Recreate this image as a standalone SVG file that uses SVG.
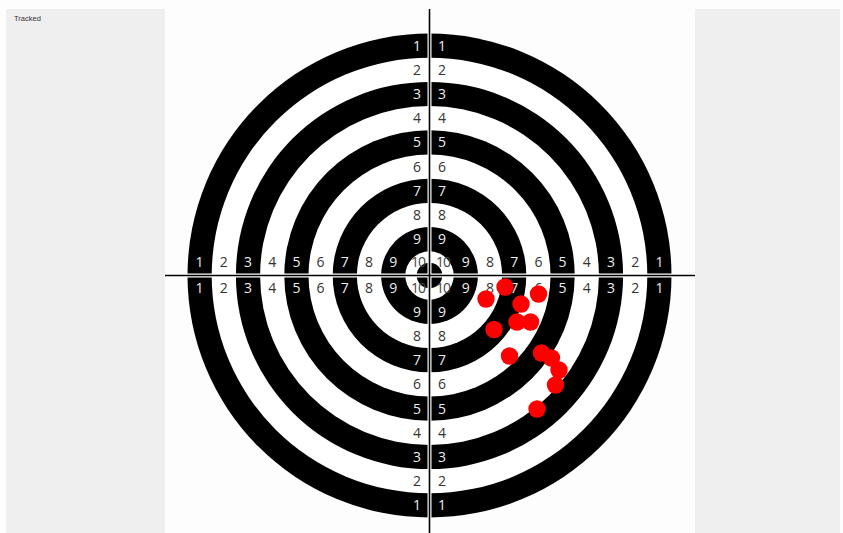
<svg xmlns="http://www.w3.org/2000/svg" width="843" height="533" viewBox="0 0 843 533">
<style>
.lbl{font-family:"Open Sans","DejaVu Sans",sans-serif;font-size:14px;text-anchor:middle}
.w{fill:#ededed}
.d{fill:#333}
.t{fill:#444}
.hit{fill:#ff0000}
.blk{fill:#000}
.wht{fill:#fff}
</style>
<rect x="0" y="0" width="843" height="533" fill="#fdfdfd"/>
<g id="leftPanel">
<rect x="6" y="9" width="159" height="524" fill="#efefef"/>
<text x="14" y="20.5" font-family="Liberation Sans, Arial, sans-serif" font-size="7.5" fill="#333">Tracked</text>
</g>
<g id="rightPanel">
<rect x="695" y="9" width="145" height="524" fill="#efefef"/>
</g>
<g id="target">
<circle cx="429.5" cy="275.5" r="242" class="blk"/>
<circle cx="429.5" cy="275.5" r="217.8" class="wht"/>
<circle cx="429.5" cy="275.5" r="193.6" class="blk"/>
<circle cx="429.5" cy="275.5" r="169.4" class="wht"/>
<circle cx="429.5" cy="275.5" r="145.2" class="blk"/>
<circle cx="429.5" cy="275.5" r="121" class="wht"/>
<circle cx="429.5" cy="275.5" r="96.8" class="blk"/>
<circle cx="429.5" cy="275.5" r="72.6" class="wht"/>
<circle cx="429.5" cy="275.5" r="48.4" class="blk"/>
<circle cx="429.5" cy="275.5" r="24.2" class="wht"/>
<circle cx="429.5" cy="275.5" r="12.8" class="blk"/>
</g>
<g id="crosshair">
<line x1="429.5" y1="9" x2="429.5" y2="533" stroke="#fff" stroke-width="4"/>
<line x1="165" y1="275.5" x2="695" y2="275.5" stroke="#fff" stroke-width="4"/>
<line x1="429.5" y1="9" x2="429.5" y2="533" stroke="#000" stroke-width="1.6"/>
<line x1="165" y1="275.5" x2="695" y2="275.5" stroke="#000" stroke-width="1.6"/>
</g>
<g id="labelsVertical" class="lbl">
<text x="417" y="50.5" class="w">1</text><text x="442" y="50.5" class="w">1</text>
<text x="417" y="74.7" class="d">2</text><text x="442" y="74.7" class="d">2</text>
<text x="417" y="98.9" class="w">3</text><text x="442" y="98.9" class="w">3</text>
<text x="417" y="123.1" class="d">4</text><text x="442" y="123.1" class="d">4</text>
<text x="417" y="147.3" class="w">5</text><text x="442" y="147.3" class="w">5</text>
<text x="417" y="171.5" class="d">6</text><text x="442" y="171.5" class="d">6</text>
<text x="417" y="195.7" class="w">7</text><text x="442" y="195.7" class="w">7</text>
<text x="417" y="219.9" class="d">8</text><text x="442" y="219.9" class="d">8</text>
<text x="417" y="244.1" class="w">9</text><text x="442" y="244.1" class="w">9</text>
<text x="417" y="510.3" class="w">1</text><text x="442" y="510.3" class="w">1</text>
<text x="417" y="486.1" class="d">2</text><text x="442" y="486.1" class="d">2</text>
<text x="417" y="461.9" class="w">3</text><text x="442" y="461.9" class="w">3</text>
<text x="417" y="437.7" class="d">4</text><text x="442" y="437.7" class="d">4</text>
<text x="417" y="413.5" class="w">5</text><text x="442" y="413.5" class="w">5</text>
<text x="417" y="389.3" class="d">6</text><text x="442" y="389.3" class="d">6</text>
<text x="417" y="365.1" class="w">7</text><text x="442" y="365.1" class="w">7</text>
<text x="417" y="340.9" class="d">8</text><text x="442" y="340.9" class="d">8</text>
<text x="417" y="316.7" class="w">9</text><text x="442" y="316.7" class="w">9</text>
</g>
<g id="labelsHorizontal" class="lbl">
<text x="199.6" y="267" class="w">1</text><text x="199.6" y="293" class="w">1</text>
<text x="223.8" y="267" class="d">2</text><text x="223.8" y="293" class="d">2</text>
<text x="248" y="267" class="w">3</text><text x="248" y="293" class="w">3</text>
<text x="272.2" y="267" class="d">4</text><text x="272.2" y="293" class="d">4</text>
<text x="296.4" y="267" class="w">5</text><text x="296.4" y="293" class="w">5</text>
<text x="320.6" y="267" class="d">6</text><text x="320.6" y="293" class="d">6</text>
<text x="344.8" y="267" class="w">7</text><text x="344.8" y="293" class="w">7</text>
<text x="369" y="267" class="d">8</text><text x="369" y="293" class="d">8</text>
<text x="393.2" y="267" class="w">9</text><text x="393.2" y="293" class="w">9</text>
<text x="659.4" y="267" class="w">1</text><text x="659.4" y="293" class="w">1</text>
<text x="635.2" y="267" class="d">2</text><text x="635.2" y="293" class="d">2</text>
<text x="611" y="267" class="w">3</text><text x="611" y="293" class="w">3</text>
<text x="586.8" y="267" class="d">4</text><text x="586.8" y="293" class="d">4</text>
<text x="562.6" y="267" class="w">5</text><text x="562.6" y="293" class="w">5</text>
<text x="538.4" y="267" class="d">6</text><text x="538.4" y="293" class="d">6</text>
<text x="514.2" y="267" class="w">7</text><text x="514.2" y="293" class="w">7</text>
<text x="490" y="267" class="d">8</text><text x="490" y="293" class="d">8</text>
<text x="465.8" y="267" class="w">9</text><text x="465.8" y="293" class="w">9</text>
</g>
<g id="labelsCenter" class="lbl">
<text x="418" y="267" class="t" letter-spacing="-1">10</text>
<text x="443" y="267" class="t" letter-spacing="-1">10</text>
<text x="418" y="293" class="t" letter-spacing="-1">10</text>
<text x="443" y="293" class="t" letter-spacing="-1">10</text>
</g>
<g id="hits">
<circle cx="505" cy="287" r="8.7" class="hit"/>
<circle cx="486" cy="299" r="8.7" class="hit"/>
<circle cx="538.5" cy="294" r="8.7" class="hit"/>
<circle cx="521" cy="304" r="8.7" class="hit"/>
<circle cx="517" cy="322" r="8.7" class="hit"/>
<circle cx="530.5" cy="322" r="8.7" class="hit"/>
<circle cx="494" cy="329.5" r="8.7" class="hit"/>
<circle cx="509.5" cy="356" r="8.7" class="hit"/>
<circle cx="541.5" cy="353" r="8.7" class="hit"/>
<circle cx="551.5" cy="358" r="8.7" class="hit"/>
<circle cx="559" cy="370" r="8.7" class="hit"/>
<circle cx="555.5" cy="385" r="8.7" class="hit"/>
<circle cx="537" cy="409" r="8.7" class="hit"/>
</g>
</svg>
